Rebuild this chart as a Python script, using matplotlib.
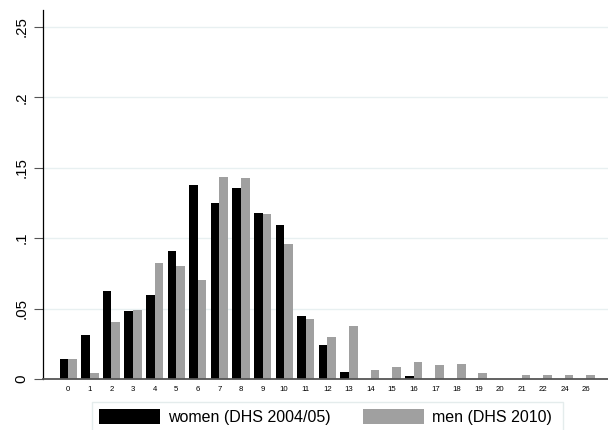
import matplotlib
matplotlib.use("Agg")
import matplotlib.pyplot as plt
from matplotlib.patches import Rectangle
import numpy as np

plt.rcParams['font.family'] = ['Liberation Sans', 'DejaVu Sans']

categories = ["0", "1", "2", "3", "4", "5", "6", "7", "8", "9", "10", "11", "12",
              "13", "14", "15", "16", "17", "18", "19", "20", "21", "22", "24", "26"]
women = [0.0142, 0.0315, 0.0625, 0.0485, 0.0594, 0.0909, 0.1378, 0.1250, 0.1357,
         0.1180, 0.1096, 0.0445, 0.0241, 0.0050, 0.0, 0.0, 0.0020, 0.0, 0.0, 0.0,
         0.0, 0.0, 0.0, 0.0, 0.0]
men = [0.0142, 0.0043, 0.0405, 0.0490, 0.0824, 0.0800, 0.0703, 0.1435, 0.1428,
       0.1174, 0.0959, 0.0426, 0.0300, 0.0376, 0.0064, 0.0085, 0.0120, 0.0097,
       0.0107, 0.0040, 0.0, 0.0026, 0.0028, 0.0028, 0.0028]
yticks = [0, 0.05, 0.1, 0.15, 0.2, 0.25]
ytick_labels = ["0", ".05", ".1", ".15", ".2", ".25"]
series_labels = ["women (DHS 2004/05)", "men (DHS 2010)"]

W, H = 608, 430
fig = plt.figure(figsize=(W / 100, H / 100), dpi=100)
ax = fig.add_axes([42.7 / W, 1 - 379 / H, 1 - 42.7 / W, (379 - 10) / H])

x = np.arange(len(categories))
bw = 0.40
b1 = ax.bar(x - bw / 2, women, width=bw, color="black", linewidth=0, label=series_labels[0], zorder=3)
b2 = ax.bar(x + bw / 2, men, width=bw, color="#a0a0a0", linewidth=0, label=series_labels[1], zorder=3)

ax.set_xlim(-1.185, 25.0)
ax.set_ylim(0, 0.262)
ax.set_yticks(yticks)
ax.set_yticklabels(ytick_labels, rotation=90, va="center", fontsize=10.8)
ax.set_xticks(x)
ax.set_xticklabels(categories, fontsize=5.6)
ax.tick_params(axis="x", length=0, pad=5)
ax.tick_params(axis="y", length=6.8, width=0.8, color="#555555", pad=3.2)
ax.grid(axis="y", color="#e8f0f1", linewidth=1.0, zorder=0)
ax.set_axisbelow(True)
for s in ["top", "right"]:
    ax.spines[s].set_visible(False)
ax.spines["left"].set_color("black")
ax.spines["left"].set_linewidth(0.9)
ax.spines["bottom"].set_color("#555555")
ax.spines["bottom"].set_linewidth(1.3)
ax.spines["bottom"].set_zorder(4)

# legend frame (Stata-style, cut by bottom edge)
fig.patches.append(Rectangle((92 / W, -0.05), (563 - 92) / W, 0.05 + 1 - 402 / H,
                             transform=fig.transFigure, facecolor="white",
                             edgecolor="#e4ecec", linewidth=1.0, zorder=0))
leg = fig.legend(handles=[b1, b2], labels=series_labels, ncol=2,
                 loc="upper left", bbox_to_anchor=(92 / W, 1 - 402 / H),
                 borderaxespad=0, fontsize=11.5, handlelength=3.85, handleheight=1.13,
                 handletextpad=0.5, columnspacing=2.0, borderpad=0.42,
                 frameon=False)

fig.savefig("out.png", dpi=100)
